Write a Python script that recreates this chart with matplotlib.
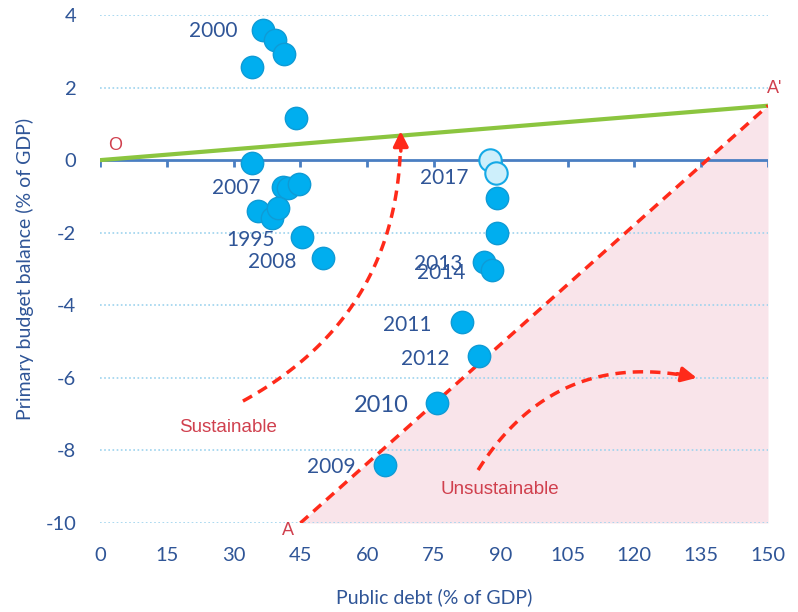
import matplotlib
matplotlib.use("Agg")
import matplotlib.pyplot as plt
import numpy as np

# ---- data ----
debt_dark = [36.6, 39.3, 41.3, 34.1, 44.0, 34.1, 41.1, 42.2, 44.7, 35.5, 38.6, 40.0,
             45.4, 50.1, 89.2, 89.2, 86.2, 88.0, 81.3, 85.1, 75.7, 64.0]
balance_dark = [3.58, 3.31, 2.92, 2.56, 1.16, -0.08, -0.74, -0.77, -0.66, -1.40, -1.60, -1.32,
                -2.12, -2.70, -1.05, -2.00, -2.81, -3.03, -4.46, -5.40, -6.70, -8.40]
debt_light = [87.6, 88.9]
balance_light = [0.0, -0.36]

year_labels = ["2000", "2007", "1995", "2008", "2017", "2013", "2014", "2011", "2012", "2010", "2009"]
year_x = [25.5, 30.6, 33.8, 38.6, 77.2, 75.9, 76.7, 69.0, 73.0, 63.2, 52.0]
year_y = [3.55, -0.78, -2.2, -2.8, -0.5, -2.87, -3.12, -4.53, -5.48, -6.75, -8.45]

xticks = [0, 15, 30, 45, 60, 75, 90, 105, 120, 135, 150]
yticks = [4, 2, 0, -2, -4, -6, -8, -10]

green_x = [0, 150]
green_y = [0, 1.5]
red_x = [45, 150]
red_y = [-10, 1.5]

blue_txt = "#2F5597"
red_txt = "#D0404E"

plt.rcParams['font.family'] = ['Lato', 'DejaVu Sans']
plt.rcParams['axes.unicode_minus'] = False

fig = plt.figure(figsize=(7.98, 6.12), dpi=100)
ax = fig.add_axes([0.1253, 0.1454, 0.8371, 0.8301])
ax.set_xlim(0, 150)
ax.set_ylim(-10, 4)

for s in ax.spines.values():
    s.set_visible(False)

# grid lines
for yv in yticks:
    if yv != 0:
        ax.plot([0, 150], [yv, yv], ls=(0, (1, 1.5)), color="#9DD3EE", lw=1.2, zorder=1)

# pink region
ax.fill_between(red_x, red_y, [-10, -10], color="#F9E4EA", zorder=0, lw=0)

# axis line at 0 with ticks
ax.plot([0, 150], [0, 0], color="#4A7EC2", lw=2, zorder=2)
for xv in xticks:
    ax.plot([xv, xv], [0, -0.2], color="#4A7EC2", lw=2, zorder=2, solid_capstyle='butt')

# green line
ax.plot(green_x, green_y, color="#8BC53F", lw=3, zorder=3, solid_capstyle='round')
# red dashed line
ax.plot(red_x, red_y, color="#FF2A1A", lw=2.5, ls=(0, (3, 2)), zorder=3)

# points
ax.scatter(debt_dark, balance_dark, s=260, color="#00AEEF", edgecolor="#0E9BD6", lw=1, zorder=5)
ax.scatter(debt_light, balance_light, s=260, color="#CDEFFB", edgecolor="#14A9E6", lw=1.5, zorder=6)

for lab, xv, yv in zip(year_labels, year_x, year_y):
    fs = 17 if lab == "2010" else 15
    ax.text(xv, yv, lab, color=blue_txt, fontsize=fs, ha='center', va='center', zorder=7)

# tick labels
ax.set_xticks(xticks)
ax.set_yticks(yticks)
ax.tick_params(axis='both', length=0, labelsize=14.5, labelcolor=blue_txt)
ax.tick_params(axis='x', pad=17)
ax.tick_params(axis='y', pad=17)
ax.set_xlabel("Public debt (% of GDP)", fontsize=14, color=blue_txt, labelpad=18)
ax.set_ylabel("Primary budget balance (% of GDP)", fontsize=14, color=blue_txt, labelpad=8)

# point labels
lab_font = ['Liberation Sans', 'DejaVu Sans']
ax.text(3.4, 0.39, "O", color=red_txt, fontsize=13, ha='center', va='center', family=lab_font)
ax.text(42.2, -10.2, "A", color=red_txt, fontsize=13, ha='center', va='center', clip_on=False, family=lab_font)
ax.text(151.5, 1.98, "A'", color=red_txt, fontsize=13, ha='center', va='center', clip_on=False, family=lab_font)
ax.text(28.7, -7.38, "Sustainable", color=red_txt, fontsize=13.5, ha='center', va='center', family=lab_font)
ax.text(89.8, -9.09, "Unsustainable", color=red_txt, fontsize=13.5, ha='center', va='center', family=lab_font)

# curved arrows
fig.canvas.draw()
def curved_arrow(p0, p1, rad):
    P0 = ax.transData.transform(p0)
    P1 = ax.transData.transform(p1)
    d = P1 - P0
    mid = (P0 + P1) / 2
    C = mid + rad * np.array([d[1], -d[0]])
    t = np.linspace(0, 1, 100)
    B = ((1 - t)[:, None] ** 2) * P0 + (2 * (1 - t) * t)[:, None] * C + (t[:, None] ** 2) * P1
    tang = P1 - C
    tang = tang / np.hypot(*tang)
    stop = P1 - tang * 12
    k = np.argmin(np.hypot(*(B - stop).T))
    D = ax.transData.inverted().transform(B[:k + 1])
    ax.plot(D[:, 0], D[:, 1], color="#FF2A1A", lw=2.5, ls=(0, (3, 2)), zorder=4)
    start = ax.transData.inverted().transform(P1 - tang * 20)
    ax.annotate("", xy=p1, xytext=start,
                arrowprops=dict(arrowstyle="-|>,head_length=0.9,head_width=0.45",
                                color="#FF2A1A", lw=2.5, shrinkA=0, shrinkB=0), zorder=4)

curved_arrow((32.1, -6.64), (67.5, 0.8), 0.3)
curved_arrow((84.9, -8.54), (134.0, -6.0), -0.35)

fig.savefig("out.png", dpi=100)
